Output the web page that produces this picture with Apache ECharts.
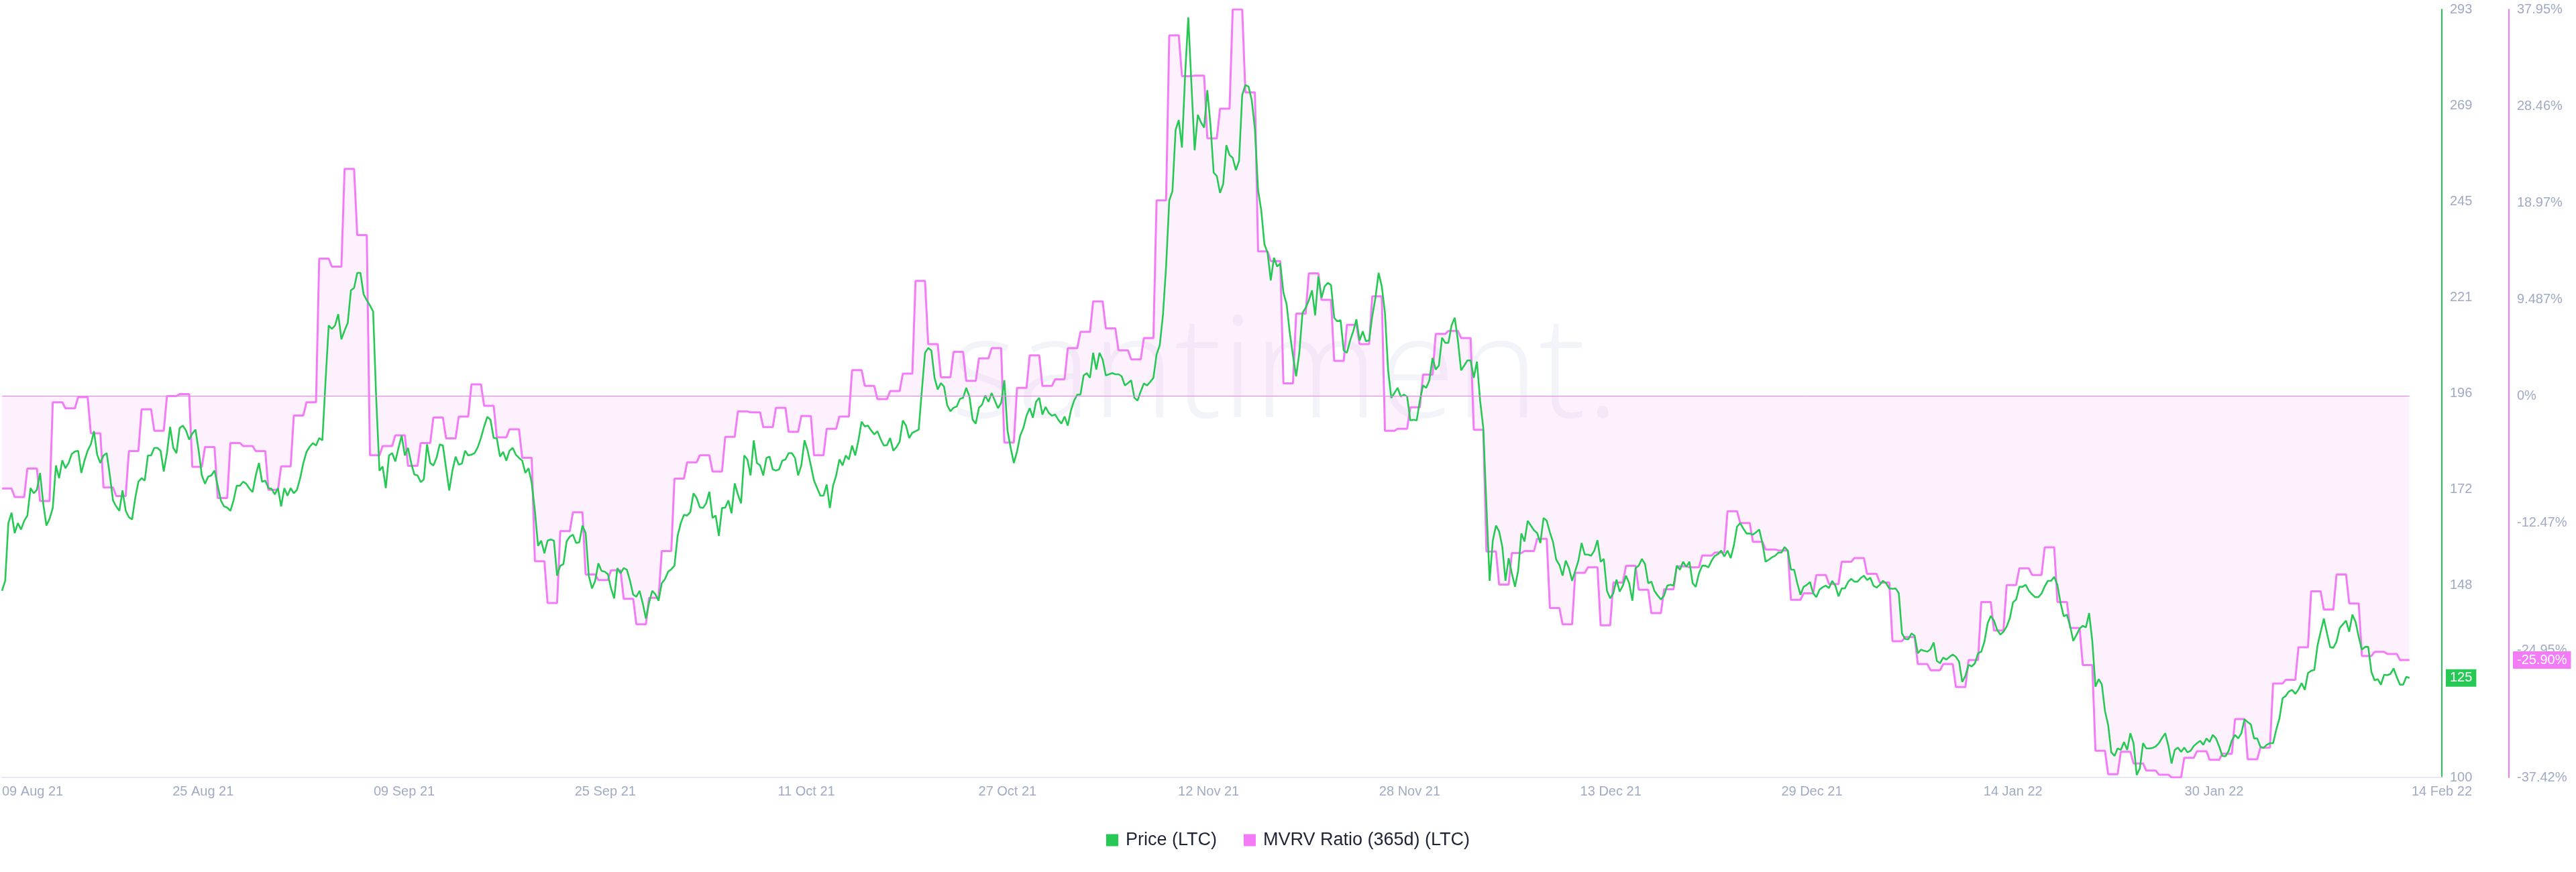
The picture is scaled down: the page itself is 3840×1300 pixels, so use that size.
<!DOCTYPE html>
<html>
<head>
<meta charset="utf-8">
<script src="https://cdn.jsdelivr.net/npm/echarts@6/dist/echarts.min.js"></script>
<style>
html,body{margin:0;padding:0;background:#ffffff;}
#chart{width:3840px;height:1300px;}
</style>
</head>
<body>
<div id="chart"></div>
<script>
// ---------- data ----------
const startDate = Date.UTC(2021, 7, 9);   // 09 Aug 2021, first sample
const stepHours = 6;                        // price sampled every 6 hours

// Price (LTC), USD, one value every 6 hours
const priceLTC = [
146.9,149.4,163.9,166.5,161.4,163.9,162.3,164.5,165.8,172.7,
171.4,172.3,176.5,168.8,163.3,165.0,167.7,178.4,175.2,179.7,
177.7,179.0,181.3,181.9,182.1,176.5,179.6,182.1,183.7,187.0,
181.1,179.0,180.9,181.5,175.9,169.6,168.1,167.0,172.1,167.0,
165.4,164.8,170.2,174.3,175.2,174.6,180.9,180.9,182.8,182.8,
182.1,176.9,181.5,188.1,182.8,181.5,187.8,188.4,187.2,184.9,
186.4,187.4,182.1,175.9,173.8,175.6,175.9,177.1,173.3,169.6,
168.1,167.8,167.0,169.6,173.3,173.3,174.3,173.8,172.6,171.7,
175.9,179.0,174.3,174.6,172.7,172.5,171.1,172.7,168.1,172.7,
170.8,172.7,171.4,172.3,175.2,179.0,181.8,183.1,184.0,183.4,
185.3,184.7,199.6,213.6,212.7,213.6,216.4,210.1,212.3,214.2,
222.4,223.0,226.8,226.8,221.4,219.9,218.6,217.1,194.7,177.1,
178.1,172.7,180.9,181.5,179.4,182.8,185.9,180.9,182.8,179.0,
176.1,175.9,174.2,174.9,183.7,179.0,178.4,180.3,183.7,183.4,
177.7,172.1,177.1,180.6,178.6,178.9,182.1,180.9,181.1,181.5,
183.0,185.3,188.2,190.6,189.9,
185.3,185.2,180.6,181.8,179.6,182.1,182.8,181.1,180.3,179.6,
176.5,177.7,174.0,167.0,158.2,159.5,156.3,159.5,159.8,159.5,
150.7,153.2,153.6,159.3,160.5,161.0,158.9,159.1,163.3,161.4,
150.7,147.5,149.4,153.8,151.9,151.7,151.1,147.5,145.0,152.6,
151.3,152.6,152.2,149.4,145.9,145.4,146.9,143.8,139.9,143.9,
146.9,146.0,144.4,148.8,149.8,151.7,152.3,153.2,160.7,163.9,
166.0,165.8,166.7,171.4,170.2,167.9,167.7,168.9,171.8,165.2,
165.8,160.7,167.7,167.8,169.6,166.4,173.9,171.1,168.9,180.9,
179.9,175.9,184.7,179.0,178.4,175.9,180.3,180.6,177.4,177.1,
177.4,179.6,179.9,181.5,181.5,180.3,175.9,178.4,184.7,182.1,
178.4,174.6,172.7,170.8,170.8,173.6,167.7,173.3,175.9,179.9,
178.4,180.9,179.9,183.4,180.9,184.7,189.4,188.2,188.4,187.2,
186.2,187.0,185.0,183.4,183.5,185.3,182.1,183.0,184.4,189.7,
188.4,185.3,186.6,187.0,187.4,197.2,206.7,207.9,207.3,200.4,
197.5,199.1,198.2,193.5,192.0,192.9,193.2,195.1,195.4,197.9,
195.7,189.9,188.9,192.9,193.7,
196.0,194.4,196.6,194.7,192.8,194.1,199.8,187.2,182.8,179.0,
181.9,185.9,187.8,190.9,192.8,190.4,194.4,195.4,191.2,193.1,
191.6,190.9,191.2,189.9,188.9,190.7,188.4,192.2,194.7,196.2,
196.2,201.0,201.6,200.4,206.7,202.5,206.7,205.0,201.0,201.3,
201.6,201.3,201.3,200.8,198.5,199.1,199.8,195.4,194.7,197.0,
199.0,198.5,199.4,200.4,206.3,208.6,216.1,228.4,245.0,247.3,
262.7,265.2,258.3,276.5,291.0,274.0,257.6,266.5,264.6,263.3,
272.7,263.9,252.0,251.1,246.9,249.1,258.9,256.4,255.7,252.6,
254.9,271.5,274.0,273.6,270.2,262.9,247.6,242.5,234.0,231.8,
224.9,230.6,228.4,229.1,221.8,218.9,211.7,206.0,200.8,206.7,
216.7,218.0,219.9,222.4,216.1,225.9,220.5,223.4,224.3,223.7,
215.5,214.6,214.9,207.3,206.7,209.7,212.1,215.1,209.8,212.1,
209.6,209.8,215.9,220.5,226.8,223.4,216.7,202.3,195.4,196.6,
197.9,195.7,196.2,195.7,189.7,189.9,189.7,194.7,198.5,197.9,
199.8,205.4,202.5,203.5,210.5,209.2,209.2,213.6,215.5,209.8,
202.3,203.5,204.8,204.8,200.4,204.5,
194.7,187.8,168.1,149.4,159.5,163.3,161.8,158.0,149.4,155.1,
151.3,147.9,152.0,161.3,159.3,164.5,163.3,162.1,161.4,158.9,
165.2,164.5,161.6,159.1,154.7,153.4,150.7,154.5,152.6,149.4,
151.9,154.5,158.9,156.0,156.0,155.7,157.0,159.6,154.2,154.9,
146.9,145.0,146.3,149.7,146.7,148.2,150.7,148.8,144.4,152.6,
153.2,154.9,153.6,148.8,149.2,146.8,145.7,144.7,145.7,148.2,
148.4,148.2,153.2,152.2,154.2,152.9,154.2,148.8,147.9,151.3,
153.2,153.2,152.8,154.5,155.7,156.1,157.0,155.5,157.0,155.1,
158.3,163.0,163.9,162.5,161.3,161.3,161.0,161.6,162.3,158.9,
154.2,154.7,155.3,155.7,156.5,156.5,157.9,157.0,152.2,152.2,
148.8,145.9,147.9,148.4,149.1,146.3,145.3,147.2,147.8,148.2,
147.6,149.4,148.2,145.5,147.5,147.5,149.1,149.9,149.2,149.2,
150.1,150.7,149.6,150.2,148.2,147.7,148.4,149.4,148.8,147.5,
147.4,147.5,146.3,136.2,134.8,134.7,136.2,135.6,131.2,132.1,
131.8,131.6,132.2,133.9,129.3,128.7,130.1,129.6,130.3,130.9,
130.3,129.1,124.0,125.5,
128.3,127.9,128.7,131.2,131.6,134.1,138.7,140.6,139.4,137.1,
135.9,136.6,137.9,140.0,144.0,144.7,147.9,147.9,148.4,146.9,
146.0,145.3,145.3,146.2,148.0,149.4,149.4,150.4,148.4,143.8,
140.5,140.9,138.1,134.3,135.8,137.4,138.1,137.7,141.3,134.3,
122.8,124.7,123.4,116.7,113.2,106.3,105.4,107.3,106.9,108.9,
106.9,111.1,108.6,100.6,102.3,108.6,107.3,107.3,107.4,107.8,
108.6,109.9,111.1,107.9,103.5,106.9,107.5,106.4,107.5,106.3,
106.7,107.9,108.6,109.2,108.2,109.8,108.9,110.7,109.8,107.8,
105.4,105.3,106.7,109.3,110.7,109.8,111.1,114.6,113.9,113.3,
109.8,109.8,107.7,107.4,108.2,108.6,108.6,112.0,114.8,119.9,
120.5,121.6,122.0,121.0,122.1,123.7,122.0,126.2,126.8,127.0,
133.1,136.6,139.9,136.2,132.7,132.6,134.1,137.5,138.5,139.4,
136.6,140.9,139.1,135.3,132.1,132.8,132.8,126.5,124.4,124.7,
123.3,125.8,125.7,126.0,127.4,125.2,123.3,123.3,125.3,125.0
];

// MVRV Ratio (365d) (LTC), %, one value per day from 09 Aug 2021
const mvrvDaily = [
-9.07,-9.9,-7.1,-10.3,-0.6,-1.2,-0.1,-3.65,-8.97,-9.8,
-5.4,-1.3,-3.4,0.0,0.2,-6.95,-5.0,-10.0,-4.6,-4.9,
-5.4,-9.2,-6.9,-1.9,-0.6,13.5,12.7,22.3,15.8,-5.8,
-4.9,-3.85,-6.85,-4.6,-2.1,-4.15,-2.0,1.15,-0.95,-4.05,
-3.25,-6.05,-16.2,-20.3,-13.25,-11.4,-17.5,-18.05,-17.1,-19.9,
-22.4,-19.8,-15.2,-8.1,-6.5,-5.8,-7.4,-4.0,-1.5,-1.6,
-3.05,-1.15,-3.5,-1.95,-5.8,-3.2,-2.0,2.55,1.0,-0.3,
0.5,2.2,11.3,5.1,1.85,4.35,1.5,3.7,4.7,-4.55,
0.8,4.0,1.0,1.65,4.7,6.3,9.3,6.65,4.5,3.6,
5.7,19.2,35.4,31.4,31.45,25.3,28.2,37.95,29.8,14.2,
13.25,1.25,8.1,12.05,9.45,3.45,7.0,5.1,9.8,-3.4,
-3.2,-1.1,2.1,6.1,6.4,5.7,-3.3,-15.25,-18.5,-15.4,
-15.2,-14.0,-20.8,-22.4,-17.35,-16.8,-22.5,-18.3,-16.65,-19.0,
-21.3,-18.95,-16.7,-16.8,-15.65,-15.35,-11.3,-12.45,-14.3,-15.05,
-15.15,-20.0,-19.35,-17.55,-18.45,-16.25,-15.9,-17.45,-18.3,-24.05,
-23.65,-26.3,-26.9,-26.3,-28.55,-25.9,-20.2,-23.0,-18.55,-16.9,
-17.55,-14.85,-20.2,-22.75,-26.4,-34.8,-37.1,-34.9,-36.05,-36.75,
-37.15,-37.42,-35.5,-34.85,-35.7,-35.1,-31.7,-35.65,-34.5,-28.2,
-27.85,-24.65,-19.15,-20.95,-17.5,-20.35,-25.5,-25.1,-25.3,-25.9
];

// tick labels
const xTickLabels = ['09 Aug 21','25 Aug 21','09 Sep 21','25 Sep 21','11 Oct 21','27 Oct 21',
  '12 Nov 21','28 Nov 21','13 Dec 21','29 Dec 21','14 Jan 22','30 Jan 22','14 Feb 22'];
const priceTicks = [100,124.125,148.25,172.375,196.5,220.625,244.75,268.875,293];
const priceTickLabels = ['100','124','148','172','196','221','245','269','293'];
const mvrvTicks = [-37.42,-24.95,-12.47,0,9.487,18.97,28.46,37.95];
const mvrvTickLabels = ['-37.42%','-24.95%','-12.47%','0%','9.487%','18.97%','28.46%','37.95%'];

// ---------- build ----------
const HOUR = 3600 * 1000, DAY = 24 * HOUR;
const times = priceLTC.map((_, i) => startDate + i * stepHours * HOUR);
const priceData = priceLTC.map((v, i) => [times[i], v]);
// the daily MVRV value is held over every sample of its day
const mvrvData = times.map((t, i) => [t, mvrvDaily[Math.floor(i * stepHours / 24)]]);
const lastT = times[times.length - 1];
const lastPrice = priceLTC[priceLTC.length - 1];
const lastMvrv = mvrvDaily[mvrvDaily.length - 1];

const xMin = startDate;
const xMax = lastT + 2.55 * DAY;
const xTickStep = 15.85 * DAY;
const xTickValues = xTickLabels.map((_, k) => k < xTickLabels.length - 1 ? xMin + k * xTickStep : xMax);

function lookup(vals, labels, v, tol) {
  for (let k = 0; k < vals.length; k++) if (Math.abs(vals[k] - v) < tol) return labels[k];
  return '';
}

const GREEN = '#26c953', PINK = '#f47bf7', LABEL = '#9faac3';
const FONT = '"Liberation Sans", Arial, sans-serif';

const chart = echarts.init(document.getElementById('chart'), null, {renderer: 'canvas'});
chart.setOption({
  animation: false,
  backgroundColor: '#ffffff',
  graphic: [{
    type: 'text', z: 0, silent: true,
    style: {
      text: 'santiment.', x: 1916, y: 562, align: 'center', verticalAlign: 'middle',
      font: '300 210px "Open Sans", sans-serif', fill: '#f3f4f9'
    }
  }],
  grid: {left: 0, right: 200, top: 14, bottom: 141, containLabel: false},
  legend: {
    data: ['Price (LTC)', 'MVRV Ratio (365d) (LTC)'],
    left: 'center', top: 1234, icon: 'rect', itemWidth: 18, itemHeight: 18, itemGap: 40,
    textStyle: {fontSize: 27, color: '#1f2336', fontFamily: FONT, padding: [0, 0, 0, 6]}
  },
  xAxis: {
    type: 'value', min: xMin, max: xMax,
    axisLine: {show: true, onZero: false, lineStyle: {color: '#e5e8f4', width: 2}},
    axisTick: {show: false},
    splitLine: {show: false},
    axisLabel: {
      customValues: xTickValues, color: LABEL, fontSize: 20, fontFamily: FONT, margin: 11,
      alignMinLabel: 'left',
      formatter: v => lookup(xTickValues, xTickLabels, v, HOUR)
    }
  },
  yAxis: [{
    type: 'value', position: 'right', min: 100, max: 293,
    axisLine: {show: true, onZero: false, lineStyle: {color: GREEN, width: 2}},
    axisTick: {show: false}, splitLine: {show: false},
    axisLabel: {
      customValues: priceTicks, color: LABEL, fontSize: 20, fontFamily: FONT, margin: 12,
      formatter: v => lookup(priceTicks, priceTickLabels, v, 0.01)
    }
  }, {
    type: 'value', position: 'right', offset: 100, min: -37.42, max: 37.95,
    axisLine: {show: true, onZero: false, lineStyle: {color: PINK, width: 2}},
    axisTick: {show: false}, splitLine: {show: false},
    axisLabel: {
      customValues: mvrvTicks, color: LABEL, fontSize: 20, fontFamily: FONT, margin: 12,
      formatter: v => lookup(mvrvTicks, mvrvTickLabels, v, 0.001)
    }
  }],
  series: [{
    name: 'MVRV Ratio (365d) (LTC)', type: 'line', yAxisIndex: 1, color: PINK,
    data: mvrvData, showSymbol: false, symbol: 'none', z: 2,
    lineStyle: {color: PINK, width: 3},
    areaStyle: {color: 'rgba(244,123,247,0.15)', origin: 0},
    markLine: {
      silent: true, symbol: ['none', 'none'], animation: false,
      data: [
        [{coord: [times[0], 0], lineStyle: {color: PINK, width: 1, type: 'solid'}, label: {show: false}},
         {coord: [lastT, 0]}],
        {yAxis: lastMvrv, lineStyle: {color: 'rgba(0,0,0,0)', width: 1, type: 'solid'},
         label: {show: true, position: 'end', distance: 106, formatter: () => lastMvrv.toFixed(2) + '%',
                 backgroundColor: PINK, color: '#ffffff', fontSize: 20, fontFamily: FONT, padding: [3, 6, 3, 6]}}
      ]
    }
  }, {
    name: 'Price (LTC)', type: 'line', yAxisIndex: 0, color: GREEN,
    data: priceData, showSymbol: false, symbol: 'none', z: 3,
    lineStyle: {color: GREEN, width: 2.6},
    markLine: {
      silent: true, symbol: ['none', 'none'], animation: false,
      data: [
        {yAxis: lastPrice, lineStyle: {color: 'rgba(0,0,0,0)', width: 1, type: 'solid'},
         label: {show: true, position: 'end', distance: 6, formatter: () => String(Math.round(lastPrice)),
                 backgroundColor: GREEN, color: '#ffffff', fontSize: 20, fontFamily: FONT, padding: [3, 6, 3, 6]}}
      ]
    }
  }]
});
</script>
</body>
</html>
